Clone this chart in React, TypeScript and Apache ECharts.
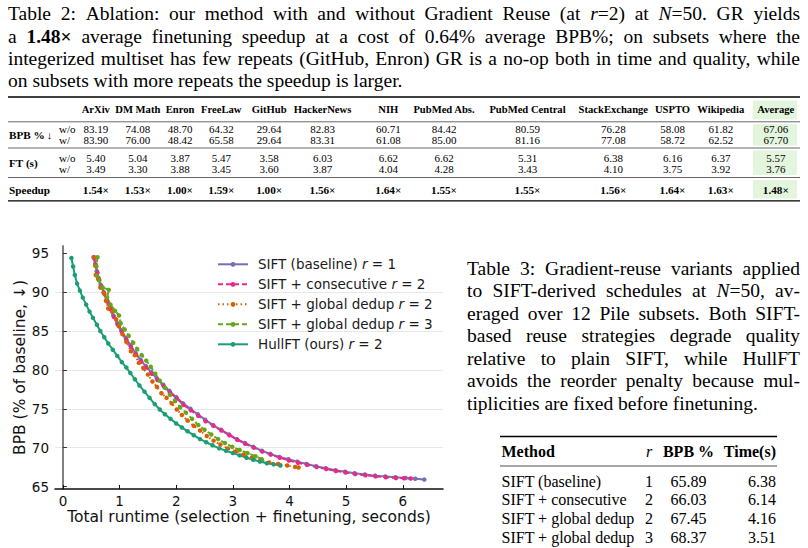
import React, { useEffect, useRef } from "react";
import * as echarts from "echarts";

type Pt = [number, number];

// ---------- Figure data ----------
const siftBaselineR1: Pt[] = [
  [0.54, 94.5], [0.57, 93.6], [0.6, 92.7], [0.63, 91.8], [0.67, 90.9], [0.72, 90.0], [0.77, 89.0],
  [0.83, 88.0], [0.89, 87.0], [0.96, 86.0], [1.03, 85.1], [1.11, 84.1], [1.19, 83.2], [1.28, 82.2],
  [1.37, 81.3], [1.46, 80.5], [1.56, 79.7], [1.66, 78.9], [1.77, 78.1], [1.88, 77.3], [2.0, 76.5],
  [2.12, 75.7], [2.25, 75.0], [2.38, 74.3], [2.51, 73.6], [2.65, 72.9], [2.79, 72.3], [2.93, 71.7],
  [3.07, 71.1], [3.21, 70.6], [3.36, 70.1], [3.51, 69.6], [3.66, 69.2], [3.82, 68.8], [3.98, 68.5],
  [4.14, 68.2], [4.3, 67.9], [4.47, 67.6], [4.64, 67.35], [4.81, 67.1], [4.98, 66.9], [5.15, 66.7],
  [5.33, 66.55], [5.51, 66.4], [5.69, 66.3], [5.87, 66.2], [6.05, 66.1], [6.22, 66.0], [6.38, 65.89],
];
const siftConsecutiveR2: Pt[] = [
  [0.55, 94.4], [0.58, 93.5], [0.61, 92.5], [0.64, 91.6], [0.68, 90.7], [0.73, 89.8], [0.78, 88.8],
  [0.84, 87.8], [0.9, 86.8], [0.97, 85.8], [1.04, 84.9], [1.12, 83.9], [1.2, 83.0], [1.29, 82.0],
  [1.38, 81.1], [1.47, 80.3], [1.57, 79.5], [1.67, 78.7], [1.78, 77.9], [1.89, 77.1], [2.01, 76.3],
  [2.13, 75.5], [2.26, 74.8], [2.39, 74.1], [2.52, 73.4], [2.66, 72.8], [2.8, 72.2], [2.94, 71.6],
  [3.08, 71.0], [3.22, 70.5], [3.37, 70.0], [3.52, 69.5], [3.67, 69.1], [3.83, 68.7], [3.99, 68.35],
  [4.15, 68.05], [4.31, 67.8], [4.48, 67.5], [4.65, 67.25], [4.82, 67.0], [4.99, 66.8], [5.16, 66.6],
  [5.34, 66.45], [5.52, 66.3], [5.7, 66.2], [5.88, 66.1], [6.02, 66.06], [6.14, 66.03],
];
const siftGlobalDedupR2: Pt[] = [
  [0.55, 94.5], [0.57, 93.4], [0.58, 92.2], [0.62, 91.7], [0.66, 90.6], [0.72, 89.9], [0.76, 88.9],
  [0.8, 87.9], [0.87, 87.5], [0.94, 86.5], [0.99, 85.6], [1.05, 84.6], [1.12, 83.6], [1.2, 82.4],
  [1.27, 81.9], [1.34, 80.9], [1.42, 80.2], [1.5, 79.4], [1.58, 78.5], [1.66, 77.8], [1.74, 77.0],
  [1.83, 76.4], [1.92, 75.7], [2.01, 74.9], [2.1, 74.2], [2.2, 73.5], [2.31, 72.8], [2.42, 72.2],
  [2.54, 71.5], [2.66, 70.9], [2.78, 70.4], [2.91, 69.9], [3.05, 69.5], [3.19, 69.1], [3.34, 68.7],
  [3.49, 68.4], [3.64, 68.1], [3.8, 67.9], [3.96, 67.7], [4.1, 67.52], [4.16, 67.45],
];
const siftGlobalDedupR3: Pt[] = [
  [0.61, 94.5], [0.59, 93.3], [0.6, 92.1], [0.64, 91.5], [0.7, 90.6], [0.81, 90.3], [0.78, 89.3],
  [0.84, 88.4], [0.92, 87.6], [0.99, 87.0], [1.02, 86.0], [1.09, 85.2], [1.16, 84.4], [1.24, 83.5],
  [1.31, 82.7], [1.39, 81.9], [1.47, 81.2], [1.55, 80.4], [1.63, 79.5], [1.71, 78.6], [1.8, 77.7],
  [1.89, 76.8], [1.98, 76.0], [2.07, 75.2], [2.17, 74.5], [2.28, 73.7], [2.39, 72.9], [2.5, 72.3],
  [2.62, 71.7], [2.74, 71.1], [2.86, 70.6], [2.99, 70.1], [3.12, 69.7], [3.26, 69.3], [3.4, 68.9],
  [3.51, 68.5],
];
const hullftR2: Pt[] = [
  [0.15, 94.4], [0.18, 93.3], [0.21, 92.2], [0.25, 91.1], [0.3, 90.2], [0.35, 89.3], [0.41, 88.4],
  [0.47, 87.5], [0.53, 86.7], [0.6, 85.8], [0.66, 85.0], [0.73, 84.2], [0.8, 83.4], [0.88, 82.6],
  [0.96, 81.8], [1.04, 81.0], [1.12, 80.3], [1.19, 79.6], [1.27, 78.8], [1.35, 78.0], [1.44, 77.2],
  [1.53, 76.4], [1.62, 75.6], [1.71, 74.9], [1.8, 74.3], [1.9, 73.7], [2.0, 73.1], [2.1, 72.6],
  [2.2, 72.1], [2.31, 71.6], [2.42, 71.1], [2.53, 70.7], [2.64, 70.3], [2.76, 69.9], [2.88, 69.6],
  [3.0, 69.3], [3.12, 69.0], [3.24, 68.7], [3.36, 68.45], [3.48, 68.2], [3.6, 68.0], [3.72, 67.85],
  [3.84, 67.7],
];

const seriesNames = [
  "SIFT (baseline) r = 1",
  "SIFT + consecutive r = 2",
  "SIFT + global dedup r = 2",
  "SIFT + global dedup r = 3",
  "HullFT (ours) r = 2",
];
const seriesData = [siftBaselineR1, siftConsecutiveR2, siftGlobalDedupR2, siftGlobalDedupR3, hullftR2];
const seriesColors = ["#7570b3", "#e7298a", "#d95f02", "#66a61e", "#1b9e77"];
const xTickValues = [0, 1, 2, 3, 4, 5, 6];
const yTickValues = [65, 70, 75, 80, 85, 90, 95];
const xAxisTitle = "Total runtime (selection + finetuning, seconds)";
const yAxisTitle = "BPB (% of baseline, \u2193)";

// ---------- Table 2 data ----------
const t2Subsets = ["ArXiv", "DM Math", "Enron", "FreeLaw", "GitHub", "HackerNews", "NIH", "PubMed Abs.",
  "PubMed Central", "StackExchange", "USPTO", "Wikipedia", "Average"];
const t2BpbWithout = ["83.19", "74.08", "48.70", "64.32", "29.64", "82.83", "60.71", "84.42", "80.59", "76.28", "58.08", "61.82", "67.06"];
const t2BpbWith = ["83.90", "76.00", "48.42", "65.58", "29.64", "83.31", "61.08", "85.00", "81.16", "77.08", "58.72", "62.52", "67.70"];
const t2FtWithout = ["5.40", "5.04", "3.87", "5.47", "3.58", "6.03", "6.62", "6.62", "5.31", "6.38", "6.16", "6.37", "5.57"];
const t2FtWith = ["3.49", "3.30", "3.88", "3.45", "3.60", "3.87", "4.04", "4.28", "3.43", "4.10", "3.75", "3.92", "3.76"];
const t2Speedup = ["1.54", "1.53", "1.00", "1.59", "1.00", "1.56", "1.64", "1.55", "1.55", "1.56", "1.64", "1.63", "1.48"];

// ---------- Table 3 data ----------
const t3Methods = ["SIFT (baseline)", "SIFT + consecutive", "SIFT + global dedup", "SIFT + global dedup"];
const t3R = ["1", "2", "2", "3"];
const t3Bpb = ["65.89", "66.03", "67.45", "68.37"];
const t3Time = ["6.38", "6.14", "4.16", "3.51"];

// ---------- Captions ----------
const caption2 = [
  "Table 2: Ablation: our method with and without Gradient Reuse (at {i|r}=2) at {i|N}=50. GR yields",
  "a {b|1.48\u00d7} average finetuning speedup at a cost of 0.64% average BPB%; on subsets where the",
  "integerized multiset has few repeats (GitHub, Enron) GR is a no-op both in time and quality, while",
  "on subsets with more repeats the speedup is larger.",
];
const caption3 = [
  "Table 3: Gradient-reuse variants applied",
  "to SIFT-derived schedules at {i|N}=50, av-",
  "eraged over 12 Pile subsets. Both SIFT-",
  "based reuse strategies degrade quality",
  "relative to plain SIFT, while HullFT",
  "avoids the reorder penalty because mul-",
  "tiplicities are fixed before finetuning.",
];

const SERIF = "'Liberation Serif', 'Times New Roman', serif";
const SANS = "'DejaVu Sans', sans-serif";

type Run = { t: string; b?: boolean; i?: boolean };

function parseWord(w: string): Run[] {
  const runs: Run[] = [];
  const re = /\{(b|i)\|([^}]*)\}|([^{]+)/g;
  let m: RegExpExecArray | null;
  while ((m = re.exec(w))) {
    if (m[3] !== undefined) runs.push({ t: m[3] });
    else runs.push({ t: m[2], b: m[1] === "b", i: m[1] === "i" });
  }
  return runs;
}

let measureCtx: CanvasRenderingContext2D | null = null;
function measure(r: Run, size: number, family: string): number {
  if (!measureCtx) measureCtx = document.createElement("canvas").getContext("2d");
  const ctx = measureCtx!;
  ctx.font = `${r.i ? "italic " : ""}${r.b ? "bold " : ""}${size}px ${family}`;
  return ctx.measureText(r.t).width;
}

function textEl(x: number, y: number, text: string, size: number, opts: any = {}) {
  const align = opts.align || "left";
  return {
    type: "text",
    x,
    y,
    silent: true,
    style: {
      text,
      fontSize: size,
      fontFamily: opts.family || SERIF,
      fontWeight: opts.bold ? "bold" : "normal",
      fontStyle: opts.italic ? "italic" : "normal",
      fill: "#000",
      align,
      textAlign: align,
      verticalAlign: "middle",
      textVerticalAlign: "middle",
    },
  };
}

function paragraph(lines: string[], x0: number, x1: number, y0: number, lh: number, size: number) {
  const els: any[] = [];
  lines.forEach((line, li) => {
    const words = line.split(" ").map(parseWord);
    const widths = words.map((rs) => rs.reduce((s, r) => s + measure(r, size, SERIF), 0));
    const total = widths.reduce((a, b) => a + b, 0);
    const justify = li < lines.length - 1;
    const spaceW = measure({ t: " " }, size, SERIF);
    const gap = justify && words.length > 1 ? (x1 - x0 - total) / (words.length - 1) : spaceW;
    let x = x0;
    const y = y0 + li * lh;
    words.forEach((rs, wi) => {
      let xx = x;
      rs.forEach((r) => {
        els.push(textEl(xx, y, r.t, size, { bold: r.b, italic: r.i }));
        xx += measure(r, size, SERIF);
      });
      x += widths[wi] + gap;
    });
  });
  return els;
}

function hline(x1: number, x2: number, y: number, w: number) {
  return { type: "line", silent: true, shape: { x1, y1: y, x2, y2: y }, style: { stroke: "#000", lineWidth: w } };
}

function buildTable2() {
  const els: any[] = [];
  const colX = [95.8, 137.8, 180, 221.3, 269.2, 322.5, 388.3, 444, 527.5, 613.3, 672.5, 720.8, 775.8];
  const yHead = 109.5, yB1 = 129, yB2 = 140, yF1 = 157.5, yF2 = 168.5, yS = 189.5;
  const fs = 11;
  const fh = 10.6;
  // highlight of the Average column
  [[100.5, 119.5], [124, 145.5], [150.5, 175], [180, 198.5]].forEach(([a, b]) => {
    els.push({ type: "rect", silent: true, shape: { x: 753, y: a, width: 44, height: b - a }, style: { fill: "#e3f5dd" } });
  });
  els.push(hline(8, 800, 97, 1.3));
  els.push(hline(8, 800, 121.8, 0.6));
  els.push(hline(8, 800, 148, 0.6));
  els.push(hline(8, 800, 177.5, 0.6));
  els.push(hline(8, 800, 200.8, 1.3));
  t2Subsets.forEach((s, k) => {
    els.push(textEl(colX[k], yHead, s, fh, { bold: true, align: "center" }));
    els.push(textEl(colX[k], yB1, t2BpbWithout[k], fs, { align: "center" }));
    els.push(textEl(colX[k], yB2, t2BpbWith[k], fs, { align: "center" }));
    els.push(textEl(colX[k], yF1, t2FtWithout[k], fs, { align: "center" }));
    els.push(textEl(colX[k], yF2, t2FtWith[k], fs, { align: "center" }));
    els.push(textEl(colX[k], yS, t2Speedup[k] + "\u00d7", 11.2, { bold: true, align: "center" }));
  });
  const bw = measure({ t: "BPB %", b: true }, 11.2, SERIF);
  els.push(textEl(9, (yB1 + yB2) / 2, "BPB %", 11.2, { bold: true }));
  els.push(textEl(9 + bw + 2, (yB1 + yB2) / 2, "\u2193", fs));
  els.push(textEl(9, (yF1 + yF2) / 2, "FT (s)", 11.2, { bold: true }));
  els.push(textEl(9, yS, "Speedup", 11.2, { bold: true }));
  els.push(textEl(59, yB1, "w/o", fs));
  els.push(textEl(59, yB2, "w/", fs));
  els.push(textEl(59, yF1, "w/o", fs));
  els.push(textEl(59, yF2, "w/", fs));
  return els;
}

function buildTable3() {
  const els: any[] = [];
  const fs = 16;
  const xM = 501.5, xR = 649, xB = 688.5, xT = 776;
  els.push(hline(500, 777, 436.5, 1.3));
  els.push(hline(500, 777, 466, 0.7));
  els.push(textEl(xM, 451.5, "Method", fs, { bold: true }));
  els.push(textEl(xR, 451.5, "r", fs, { italic: true, align: "center" }));
  els.push(textEl(xB, 451.5, "BPB %", fs, { bold: true, align: "center" }));
  els.push(textEl(xT, 451.5, "Time(s)", fs, { bold: true, align: "right" }));
  const rowY = [481, 499.7, 518.3, 537];
  t3Methods.forEach((m, k) => {
    els.push(textEl(xM, rowY[k], m, fs));
    els.push(textEl(xR, rowY[k], t3R[k], fs, { align: "center" }));
    els.push(textEl(xB, rowY[k], t3Bpb[k], fs, { align: "center" }));
    els.push(textEl(xT, rowY[k], t3Time[k], fs, { align: "right" }));
  });
  return els;
}

const dashes: any[] = ["solid", [5, 3], [1.5, 3], [5, 3], "solid"];

export default function App() {
  const ref = useRef<HTMLDivElement>(null);
  useEffect(() => {
    if (!ref.current) return;
    const chart = echarts.init(ref.current, undefined, { renderer: "svg" });
    const graphics = [
      ...paragraph(caption2, 8, 800, 13.6, 22.4, 19.5),
      ...paragraph(caption3, 467, 800, 268, 22.5, 19.5),
      ...buildTable2(),
      ...buildTable3(),
    ];
    const option: any = {
      animation: false,
      backgroundColor: "#fff",
      grid: { left: 55, right: 365, top: 246, bottom: 59, containLabel: false },
      xAxis: {
        type: "value",
        min: -0.14,
        max: 6.71,
        minInterval: 1,
        maxInterval: 1,
        name: xAxisTitle,
        nameLocation: "middle",
        nameGap: 20,
        nameTextStyle: { fontFamily: SANS, fontSize: 15.5, color: "#111" },
        axisLine: { show: true, lineStyle: { color: "#111", width: 1.5 } },
        axisTick: { show: true, inside: true, length: 4, lineStyle: { color: "#111", width: 1 }, customValues: xTickValues },
        axisLabel: { fontFamily: SANS, fontSize: 13.5, color: "#111", margin: 5, customValues: xTickValues },
        splitLine: { show: false },
      },
      yAxis: {
        type: "value",
        min: 64.68,
        max: 95.94,
        minInterval: 5,
        maxInterval: 5,
        name: yAxisTitle,
        nameLocation: "middle",
        nameGap: 26,
        nameTextStyle: { fontFamily: SANS, fontSize: 15.5, color: "#111" },
        axisLine: { show: true, lineStyle: { color: "#808080", width: 2 } },
        axisTick: { show: true, inside: true, length: 4, lineStyle: { color: "#333", width: 1 }, customValues: yTickValues },
        axisLabel: { fontFamily: SANS, fontSize: 13.5, color: "#111", margin: 6, customValues: yTickValues },
        splitLine: { show: true, showMinLine: false, showMaxLine: false, lineStyle: { color: "#e8e8e8", width: 1.2 } },
      },
      legend: {
        orient: "vertical",
        left: 217,
        top: 254.3,
        padding: 0,
        itemWidth: 30,
        itemHeight: 6,
        itemGap: 0,
        selectedMode: false,
        data: seriesNames,
        formatter: (name: string) => name.replace(" r = ", " {i|r} = "),
        textStyle: {
          fontFamily: SANS,
          fontSize: 13.5,
          color: "#1a1a1a",
          lineHeight: 20,
          padding: [0, 0, 0, 5],
          rich: { i: { fontFamily: SANS, fontSize: 13.5, fontStyle: "italic", lineHeight: 20 } },
        },
      },
      series: seriesData.map((d, k) => ({
        name: seriesNames[k],
        type: "line",
        data: d,
        symbol: "circle",
        symbolSize: 4.5,
        showSymbol: true,
        lineStyle: { color: seriesColors[k], width: 2, type: dashes[k] },
        itemStyle: { color: seriesColors[k] },
        emphasis: { disabled: true },
        silent: true,
      })),
      graphic: graphics,
    };
    chart.setOption(option);
    return () => chart.dispose();
  }, []);
  return (
    <div
      ref={ref}
      style={{ position: "absolute", left: 0, top: 0, width: 808, height: 548, background: "#fff" }}
    />
  );
}
